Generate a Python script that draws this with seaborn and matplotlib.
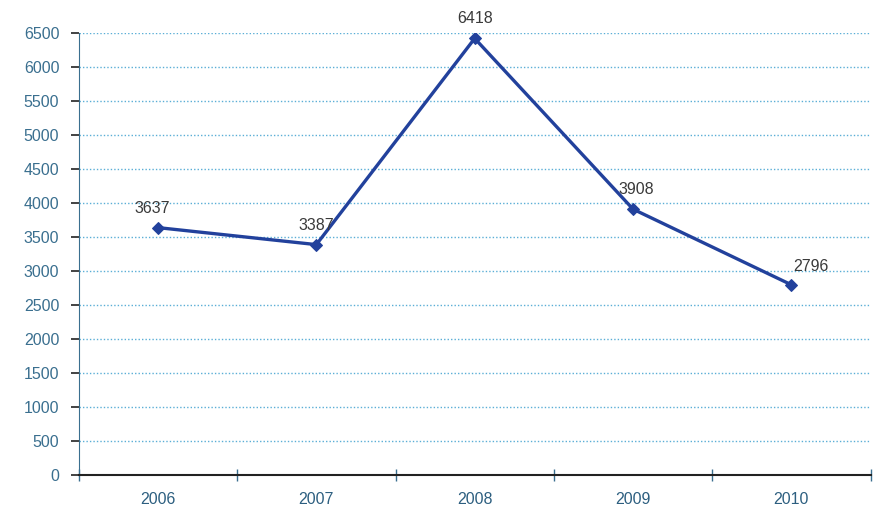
import matplotlib
matplotlib.use('Agg')
import matplotlib.pyplot as plt
import pandas as pd
import seaborn as sns
from matplotlib.ticker import MultipleLocator, FixedLocator

years = ['2006', '2007', '2008', '2009', '2010']
values = [3637, 3387, 6418, 3908, 2796]
# label offsets in points (dx, dy)
label_offsets = [(-4, 14), (0, 14), (0, 14), (2, 14), (14, 13)]


def main():
    sns.set_style('white')
    plt.rcParams['font.family'] = ['Liberation Sans', 'DejaVu Sans']

    df = pd.DataFrame({'year': years, 'value': values})

    fig = plt.figure(figsize=(8.75, 5.13), dpi=100)
    ax = fig.add_axes([0.090, 0.074, 0.905, 0.862])

    sns.lineplot(data=df, x='year', y='value', ax=ax, color='#22419c',
                 linewidth=2.4, marker='D', markersize=6,
                 markeredgecolor='#22419c', markerfacecolor='#22419c')

    for i, (v, off) in enumerate(zip(values, label_offsets)):
        ax.annotate(str(v), (i, v), xytext=off, textcoords='offset points',
                    ha='center', va='center', fontsize=11.5, color='#3a3a3a')

    ax.set_xlim(-0.5, len(years) - 0.5)
    ax.set_ylim(0, 6500)
    ax.yaxis.set_major_locator(MultipleLocator(500))
    ax.xaxis.set_minor_locator(FixedLocator([i - 0.5 for i in range(len(years) + 1)]))

    ax.grid(axis='y', which='major', linestyle=(0, (1, 1.5)), color='#5aaed6', linewidth=1)
    ax.set_axisbelow(True)

    for side in ['top', 'right']:
        ax.spines[side].set_visible(False)
    ax.spines['left'].set_color('#3a6f8f')
    ax.spines['bottom'].set_color('#222222')
    ax.spines['bottom'].set_linewidth(1.5)

    ax.tick_params(axis='y', which='major', left=True, direction='out', length=6,
                   width=1.2, color='#222222', labelsize=11.5,
                   labelcolor='#3a6f8f', pad=8)
    ax.tick_params(axis='x', which='major', bottom=True, length=0, labelsize=11.5,
                   labelcolor='#2d5f80', pad=12)
    ax.tick_params(axis='x', which='minor', bottom=True, direction='inout',
                   length=8, width=1, color='#3a6f8f')

    ax.set_xlabel('')
    ax.set_ylabel('')

    fig.savefig('out.png', dpi=100)


if __name__ == '__main__':
    main()
